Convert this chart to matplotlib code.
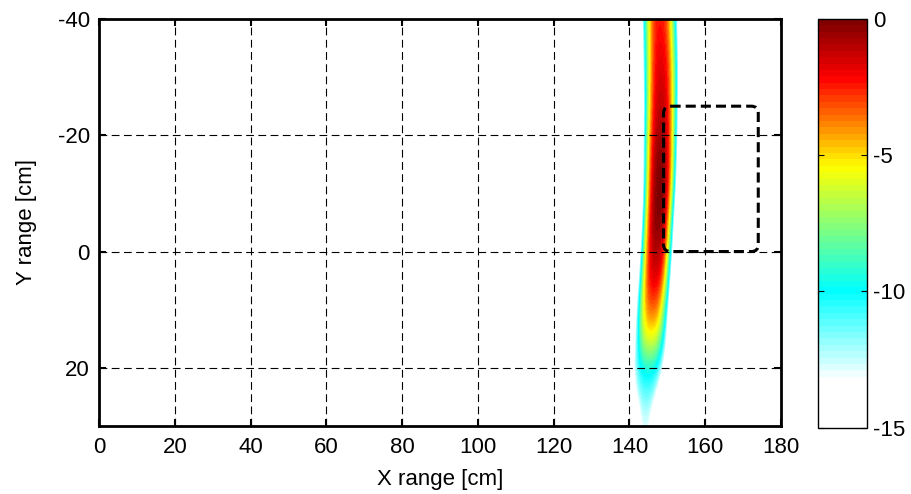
import numpy as np
import matplotlib
import matplotlib.pyplot as plt
from matplotlib.colors import LinearSegmentedColormap
from matplotlib.patches import FancyBboxPatch

plt.rcParams['font.family'] = ['Liberation Sans', 'DejaVu Sans']
plt.rcParams['font.size'] = 16
plt.rcParams['axes.unicode_minus'] = False

# ridge of the response
y_rows = [-40, -35, -30, -25, -20, -15, -10, -5, 0, 5, 10, 15, 20, 25, 30]
ridge_center = [148.1, 148.3, 148.4, 148.4, 148.3, 148.2, 148.0, 147.6, 147.2,
                146.7, 146.1, 145.7, 145.0, 144.6, 144.3]
ridge_peak = [-2.5, -2.0, -1.6, -1.2, -0.7, -0.2, 0.0, -0.2, -0.9,
              -1.8, -3.5, -5.8, -9.5, -11.5, -13.0]
# half-width (cm) where the colour fades to white
ridge_halfwidth = [4.7, 4.7, 4.7, 4.6, 4.6, 4.5, 4.4, 4.3, 4.3,
                   4.3, 4.3, 4.2, 3.9, 2.7, 0.8]

x_ticks = [0, 20, 40, 60, 80, 100, 120, 140, 160, 180]
y_ticks = [-40, -20, 0, 20]
cb_ticks = [0, -5, -10, -15]
box_x = [149, 174]
box_y = [-25, 0]

# white -> cyan -> yellow -> red -> dark red, 64 levels like matlab
cmap = LinearSegmentedColormap.from_list(
    'wjet', [(0, 'white'), (0.113, 'white'), (0.333, (0, 1, 1)),
             (0.64, (1, 1, 0)), (0.86, (1, 0, 0)), (1, (0.5, 0, 0))], N=64)

floor = -13.3
xs = np.arange(0, 180.01, 0.25)
field = np.zeros((len(y_rows), len(xs)))
for i in range(len(y_rows)):
    pk = ridge_peak[i]
    u = np.abs(xs - ridge_center[i]) / ridge_halfwidth[i]
    field[i] = pk - (pk - floor) * u ** 2.5

fig = plt.figure(figsize=(9.11, 4.94), dpi=100)
ax = fig.add_axes([0.1087, 0.1377, 0.7486, 0.8239])
dy = (y_rows[1] - y_rows[0]) / 2
im = ax.imshow(field, cmap=cmap, vmin=-15, vmax=0, aspect='auto',
               interpolation='bicubic', interpolation_stage='data',
               extent=[xs[0], xs[-1], y_rows[-1] + dy, y_rows[0] - dy])
ax.set_xlim(0, 180)
ax.set_ylim(30, -40)
ax.set_xticks(x_ticks)
ax.set_yticks(y_ticks)
ax.grid(True, color='black', linestyle=(0, (7, 4)), linewidth=0.8)
ax.tick_params(direction='in', top=True, right=True, length=5, width=1.5)
ax.tick_params(axis='x', pad=8)
ax.tick_params(axis='y', pad=6.5)
for s in ax.spines.values():
    s.set_linewidth(2)
ax.set_xlabel('X range [cm]', labelpad=7.5)
ax.set_ylabel('Y range [cm]', labelpad=15)

box = FancyBboxPatch((box_x[0], box_y[0]), box_x[1] - box_x[0], box_y[1] - box_y[0],
                     boxstyle='round,pad=0,rounding_size=1.85', mutation_aspect=0.65,
                     fill=False, edgecolor='black', linewidth=2.2,
                     linestyle=(0, (3.3, 1.65)), zorder=5)
ax.add_patch(box)

cax = fig.add_axes([0.898, 0.134, 0.0538, 0.828])
cb = fig.colorbar(im, cax=cax)
cb.set_ticks(cb_ticks)
cb.outline.set_linewidth(1)
cax.tick_params(direction='in', left=True, right=True, length=4, width=0.8, pad=4)

fig.savefig('out.png', dpi=100)
